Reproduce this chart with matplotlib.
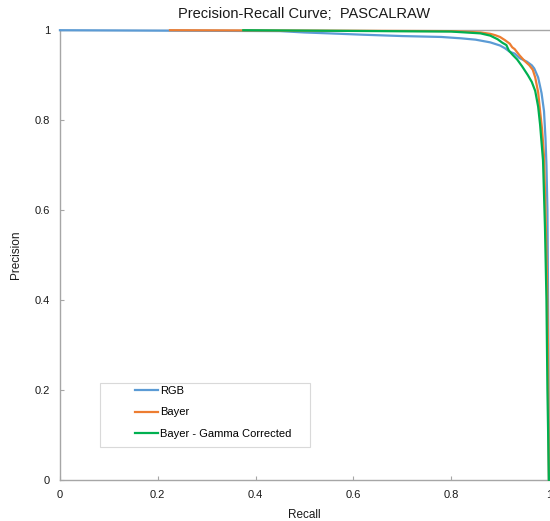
import matplotlib
matplotlib.use("Agg")
import matplotlib.pyplot as plt
from matplotlib.patches import Rectangle

plt.rcParams["font.family"] = ["Liberation Sans", "DejaVu Sans"]

# Precision-recall points
rgb_recall = [0.0, 0.45, 0.50, 0.55, 0.62, 0.70, 0.78, 0.82, 0.85, 0.88, 0.90, 0.91, 0.92,
              0.93, 0.94, 0.955, 0.965, 0.97, 0.978, 0.985, 0.99, 0.993, 0.995, 0.997, 0.998,
              0.999, 1.0]
rgb_precision = [1.0, 0.998, 0.995, 0.993, 0.99, 0.987, 0.985, 0.982, 0.979, 0.973, 0.966, 0.960,
                 0.952, 0.948, 0.938, 0.93, 0.922, 0.915, 0.895, 0.86, 0.82, 0.76, 0.70, 0.6,
                 0.45, 0.3, 0.0]

bayer_recall = [0.225, 0.80, 0.86, 0.88, 0.89, 0.90, 0.91, 0.92, 0.925, 0.93, 0.94, 0.95, 0.96,
                0.967, 0.972, 0.978, 0.982, 0.986, 0.99, 0.993, 0.996, 0.998, 1.0]
bayer_precision = [1.0, 0.998, 0.995, 0.992, 0.989, 0.985, 0.978, 0.97, 0.962, 0.958, 0.944, 0.932,
                   0.922, 0.912, 0.895, 0.862, 0.82, 0.78, 0.72, 0.6, 0.45, 0.3, 0.0]

gamma_recall = [0.375, 0.80, 0.86, 0.88, 0.895, 0.905, 0.913, 0.918, 0.922, 0.926, 0.935, 0.945,
                0.957, 0.965, 0.972, 0.978, 0.982, 0.988, 0.992, 0.995, 0.997, 1.0]
gamma_precision = [1.0, 0.997, 0.993, 0.988, 0.98, 0.972, 0.967, 0.955, 0.95, 0.945, 0.935, 0.92,
                   0.9, 0.885, 0.865, 0.83, 0.79, 0.71, 0.56, 0.4, 0.2, 0.0]

series = [
    ("RGB", rgb_recall, rgb_precision, "#5B9BD5"),
    ("Bayer", bayer_recall, bayer_precision, "#ED7D31"),
    ("Bayer - Gamma Corrected", gamma_recall, gamma_precision, "#00B050"),
]
ticks = [0, 0.2, 0.4, 0.6, 0.8, 1]
tick_labels = ["0", "0.2", "0.4", "0.6", "0.8", "1"]

fig = plt.figure(figsize=(5.5, 5.21), dpi=100)
ax = fig.add_axes([0.109, 0.079, 0.889, 0.863])

for name, r, p, c in series:
    ax.plot(r, p, color=c, lw=1.6, label=name, solid_joinstyle="round",
            clip_on=False, zorder=3)

ax.set_xlim(0, 1)
ax.set_ylim(0, 1)
ax.set_xticks(ticks, tick_labels)
ax.set_yticks(ticks, tick_labels)
ax.tick_params(direction="in", length=3, width=0.8, color="#A6A6A6",
               labelsize=8, pad=7, labelcolor="#1a1a1a")

for side in ["left", "bottom", "top"]:
    ax.spines[side].set_color("#A6A6A6")
    ax.spines[side].set_linewidth(1.0)
ax.spines["right"].set_visible(False)

ax.set_title("Precision-Recall Curve;  PASCALRAW", fontsize=10.5, pad=9, color="#1a1a1a")
ax.set_xlabel("Recall", fontsize=8.5, labelpad=7, color="#1a1a1a")
ax.set_ylabel("Precision", fontsize=8.5, labelpad=9, color="#1a1a1a")

# legend box drawn separately so the padding matches
ax.add_patch(Rectangle((0.082, 0.073), 0.429, 0.143, transform=ax.transAxes,
                       fill=False, edgecolor="#D9D9D9", lw=0.8, clip_on=False))
ax.legend(loc="upper left", bbox_to_anchor=(0.153, 0.208), frameon=False,
          fontsize=8, handlelength=2.1, handletextpad=0.15, labelspacing=1.0,
          borderpad=0, borderaxespad=0)

fig.savefig("out.png", dpi=100)
